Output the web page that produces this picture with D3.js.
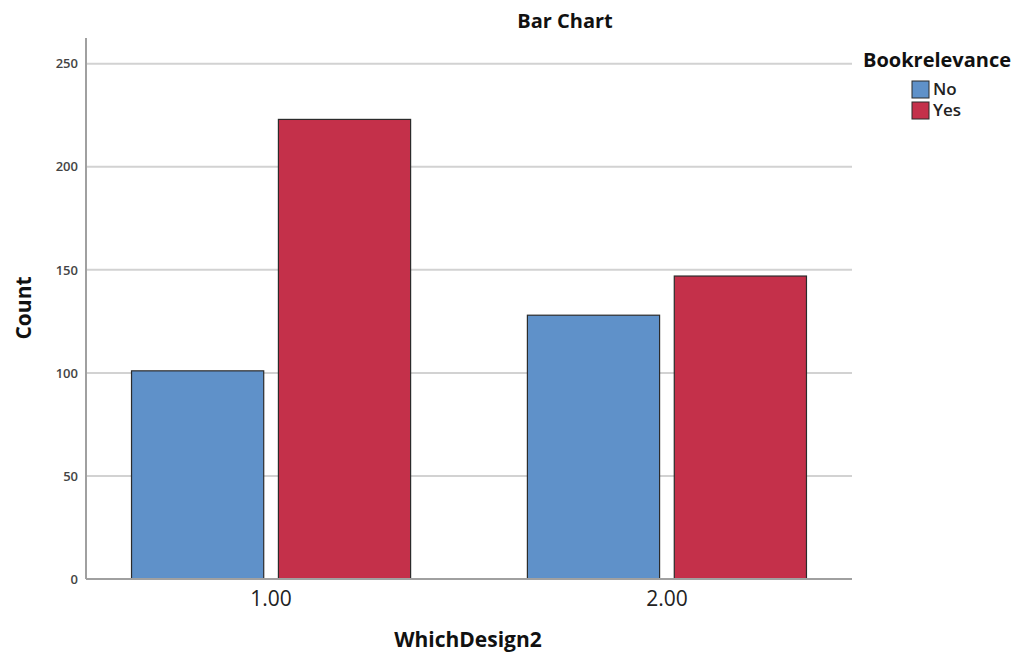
<!DOCTYPE html>
<html>
<head>
<meta charset="utf-8">
<script src="https://cdn.jsdelivr.net/npm/d3@7"></script>
<style>
  body { margin: 0; background: #fff; }
  text { font-family: "Open Sans", "DejaVu Sans", sans-serif; }
</style>
</head>
<body>
<div id="chart-area"></div>
<script>
/* data */
var categories = ["1.00", "2.00"];
var series = ["No", "Yes"];
var noValues = [101, 128];
var yesValues = [223, 147];
var yTicks = [0, 50, 100, 150, 200, 250];
var colors = ["#5f91c9", "#c4304a"];

var data = categories.map(function(c, i) {
  return { cat: c, values: [noValues[i], yesValues[i]] };
});

var margin = { left: 86, right: 164, top: 38, bottom: 77 };
var width = 1016 - margin.left - margin.right;
var height = 656 - margin.top - margin.bottom;

var svg = d3.select("#chart-area").append("svg")
  .attr("width", 1016)
  .attr("height", 656);

var g = svg.append("g")
  .attr("transform", "translate(" + margin.left + ", " + margin.top + ")");

/* scales */
var x0 = d3.scaleBand()
  .domain(categories)
  .range([0, width])
  .paddingInner(0.295)
  .paddingOuter(0.115);

var x1 = d3.scaleBand()
  .domain(series)
  .range([0, x0.bandwidth()])
  .paddingInner(0.1);

var y = d3.scaleLinear()
  .domain([0, 262.5])
  .range([height, 0]);

/* grid lines */
g.selectAll(".grid")
  .data(yTicks.filter(function(d) { return d > 0; }))
  .enter().append("line")
    .attr("class", "grid")
    .attr("x1", 0)
    .attr("x2", width)
    .attr("y1", function(d) { return y(d); })
    .attr("y2", function(d) { return y(d); })
    .attr("stroke", "#d2d2d2")
    .attr("stroke-width", 2);

/* bars */
var groups = g.selectAll(".group")
  .data(data)
  .enter().append("g")
    .attr("class", "group")
    .attr("transform", function(d) { return "translate(" + x0(d.cat) + ",0)"; });

groups.selectAll("rect")
  .data(function(d) { return d.values.map(function(v, i) { return { key: series[i], value: v, i: i }; }); })
  .enter().append("rect")
    .attr("x", function(d) { return x1(d.key); })
    .attr("y", function(d) { return y(d.value); })
    .attr("width", x1.bandwidth())
    .attr("height", function(d) { return height - y(d.value); })
    .attr("fill", function(d) { return colors[d.i]; })
    .attr("stroke", "#2b2b2b")
    .attr("stroke-width", 1.2);

/* axes */
var yAxisCall = d3.axisLeft(y).tickValues(yTicks).tickSize(0).tickPadding(8);
var yAxis = g.append("g").attr("class", "y-axis").call(yAxisCall);
yAxis.select(".domain").remove();
yAxis.selectAll("text")
  .attr("font-size", "13px")
  .attr("font-weight", "600")
  .attr("fill", "#444")
  .style("font-family", "'Open Sans', 'DejaVu Sans', sans-serif");

var xAxisCall = d3.axisBottom(x0).tickSize(0).tickPadding(12);
var xAxis = g.append("g")
  .attr("class", "x axis")
  .attr("transform", "translate(0, " + height + ")")
  .call(xAxisCall);
xAxis.select(".domain").remove();
xAxis.selectAll("text")
  .attr("font-size", "21px")
  .attr("fill", "#222")
  .style("font-family", "'Open Sans', 'DejaVu Sans', sans-serif");

// axis lines
g.append("line")
  .attr("x1", 0).attr("x2", 0)
  .attr("y1", 0).attr("y2", height)
  .attr("stroke", "#a0a0a0").attr("stroke-width", 2);
g.append("line")
  .attr("x1", 0).attr("x2", width)
  .attr("y1", height).attr("y2", height)
  .attr("stroke", "#a0a0a0").attr("stroke-width", 2);

/* labels */
svg.append("text")
  .attr("x", 565)
  .attr("y", 28)
  .attr("text-anchor", "middle")
  .attr("font-size", "20px")
  .attr("font-weight", "bold")
  .attr("fill", "#111")
  .text("Bar Chart");

svg.append("text")
  .attr("x", 468)
  .attr("y", 647)
  .attr("text-anchor", "middle")
  .attr("font-size", "21px")
  .attr("font-weight", "bold")
  .attr("fill", "#111")
  .text("WhichDesign2");

svg.append("text")
  .attr("transform", "translate(31, 308) rotate(-90)")
  .attr("text-anchor", "middle")
  .attr("font-size", "21px")
  .attr("font-weight", "bold")
  .attr("fill", "#111")
  .text("Count");

/* legend */
svg.append("text")
  .attr("x", 937)
  .attr("y", 67)
  .attr("text-anchor", "middle")
  .attr("font-size", "20px")
  .attr("font-weight", "bold")
  .attr("fill", "#111")
  .text("Bookrelevance");

var legend = svg.selectAll(".legend")
  .data(series)
  .enter().append("g")
    .attr("class", "legend")
    .attr("transform", function(d, i) { return "translate(912, " + (81 + i * 21) + ")"; });

legend.append("rect")
  .attr("width", 17)
  .attr("height", 17)
  .attr("fill", function(d, i) { return colors[i]; })
  .attr("stroke", "#2b2b2b")
  .attr("stroke-width", 1);

legend.append("text")
  .attr("x", 21)
  .attr("y", 14)
  .attr("font-size", "17px")
  .attr("font-weight", "600")
  .attr("fill", "#222")
  .text(function(d) { return d; });
</script>
</body>
</html>
